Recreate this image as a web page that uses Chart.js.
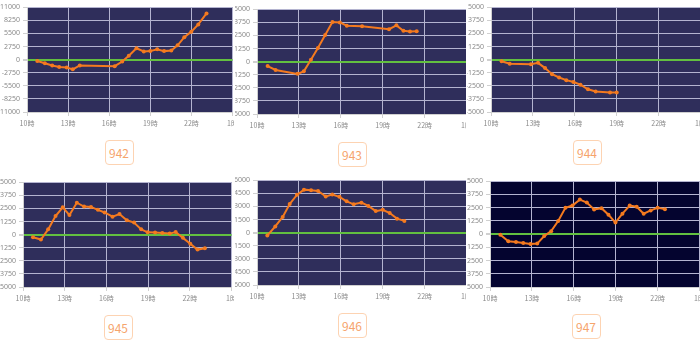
<!DOCTYPE html>
<html>
<head>
<meta charset="utf-8">
<script src="https://cdn.jsdelivr.net/npm/chart.js@4.4.0/dist/chart.umd.min.js"></script>
<style>
body{margin:0;background:#fff;font-family:"Noto Sans CJK JP","Noto Sans",sans-serif;}
#page{position:relative;width:700px;height:345px;overflow:hidden;background:#fff;}
.clip{position:absolute;overflow:hidden;}
.clip canvas{position:absolute;}
.tag{position:absolute;box-sizing:border-box;width:29px;height:25px;border:1px solid #fdd3b2;border-radius:4px;color:#f6a46c;font-size:12px;line-height:23px;text-align:center;background:#fff;}
</style>
</head>
<body>
<div id="page"></div>
<script>
// chart data (hours since midnight, 25 = 1時 next day)
var hourLabels = ['10時','13時','16時','19時','22時','1時'];
var machines = ['942','943','944','945','946','947'];
var yLimits = [11000, 5000, 5000, 5000, 6000, 5000];

var hours942 = [10.75,11.3,11.84,12.35,12.9,13.34,13.85,16.4,16.95,17.43,17.99,18.52,19.0,19.5,20.0,20.53,20.99,21.48,21.99,22.5,23.1];
var diff942  = [-300,-750,-1230,-1570,-1640,-2050,-1230,-1370,-410,820,2390,1700,1780,2190,1780,1910,3000,4710,5870,7380,9700];

var hours943 = [10.76,11.33,12.9,13.35,13.86,14.36,14.88,15.4,15.93,16.43,17.52,19.45,19.98,20.48,20.95,21.43];
var diff943  = [-430,-800,-1170,-930,185,1300,2530,3770,3740,3430,3370,3090,3460,2940,2870,2900];

var hours944 = [10.76,11.34,12.86,13.37,13.87,14.37,14.87,15.39,15.9,16.4,16.94,17.49,18.52,19.0];
var diff944  = [-155,-400,-435,-310,-810,-1400,-1710,-1960,-2140,-2390,-2830,-3040,-3140,-3140];

var hours945 = [10.72,11.29,11.81,12.34,12.86,13.34,13.87,14.39,14.89,15.39,15.87,16.44,16.94,17.47,17.99,18.5,18.97,19.5,20.02,20.55,20.98,21.5,22.03,22.55,23.08];
var diff945  = [-250,-470,500,1770,2610,1860,3040,2670,2640,2360,2110,1710,1960,1370,1150,500,220,190,155,95,250,-310,-870,-1430,-1300];

var hours946 = [10.74,11.31,11.84,12.34,12.86,13.36,13.87,14.37,14.92,15.39,15.9,16.42,16.92,17.47,17.97,18.5,19.0,19.5,20.02,20.55];
var diff946  = [-335,710,1790,3280,4320,4920,4850,4770,4140,4360,4100,3580,3240,3430,3060,2460,2610,2240,1600,1340];

var hours947 = [10.74,11.31,11.86,12.38,12.9,13.38,13.88,14.38,14.88,15.4,15.9,16.43,16.93,17.45,17.98,18.48,18.98,19.48,20.0,20.5,21.0,21.5,22.0,22.52];
var diff947  = [-60,-680,-750,-840,-930,-900,-190,280,1240,2480,2700,3260,2980,2330,2450,1830,1090,1930,2700,2580,1930,2240,2480,2360];

var allHours = [hours942, hours943, hours944, hours945, hours946, hours947];
var allDiffs = [diff942, diff943, diff944, diff945, diff946, diff947];

// panel geometry: plot left/right/top/bottom, clip box, tag centre
var panels = [
  {L:27,  R:233, T:5,   B:112, clip:[0,0,234,170],     tag:[119,152], bg:'#2f2e5b'},
  {L:257, R:467, T:7,   B:114, clip:[235,0,231,170],   tag:[352,154], bg:'#2f2e5b'},
  {L:491, R:701, T:5,   B:112, clip:[467,0,233,170],   tag:[587,152], bg:'#2f2e5b'},
  {L:23,  R:232, T:180, B:287, clip:[0,170,234,175],   tag:[118,327], bg:'#2f2e5b'},
  {L:257, R:467, T:178, B:285, clip:[235,170,231,175], tag:[352,325], bg:'#2f2e5b'},
  {L:490, R:700, T:179, B:287, clip:[467,170,233,175], tag:[586,326], bg:'#04042f'}
];

var yAxisW = 40, xAxisH = 20, topPad = 5, rightPad = 8;

var plotBg = {
  id: 'plotBg',
  beforeDraw: function(chart, args, opts){
    var a = chart.chartArea, c = chart.ctx;
    c.save();
    c.fillStyle = opts.color;
    c.fillRect(a.left, a.top, a.right - a.left, a.bottom - a.top);
    c.restore();
  }
};

var page = document.getElementById('page');

panels.forEach(function(p, i){
  var clip = document.createElement('div');
  clip.className = 'clip';
  clip.style.left = p.clip[0] + 'px';
  clip.style.top = p.clip[1] + 'px';
  clip.style.width = p.clip[2] + 'px';
  clip.style.height = p.clip[3] + 'px';
  page.appendChild(clip);

  var cv = document.createElement('canvas');
  var cw = (p.R - p.L) + yAxisW + rightPad;
  var ch = (p.B - p.T) + topPad + xAxisH;
  cv.width = cw; cv.height = ch;
  cv.style.width = cw + 'px'; cv.style.height = ch + 'px';
  cv.style.left = (p.L - yAxisW - p.clip[0]) + 'px';
  cv.style.top = (p.T - topPad - p.clip[1]) + 'px';
  clip.appendChild(cv);

  var tag = document.createElement('div');
  tag.className = 'tag';
  tag.textContent = machines[i];
  tag.style.left = (p.tag[0] - 14.5) + 'px';
  tag.style.top = (p.tag[1] - 12.5) + 'px';
  page.appendChild(tag);

  var pts = allHours[i].map(function(h, k){ return {x: h, y: allDiffs[i][k]} });
  var lim = yLimits[i];

  new Chart(cv, {
    type: 'line',
    data: { datasets: [{
      data: pts,
      borderColor: '#f47a1f',
      backgroundColor: '#f47a1f',
      borderWidth: 2,
      pointRadius: 2,
      pointBorderWidth: 0,
      pointHoverRadius: 2,
      tension: 0
    }]},
    options: {
      responsive: false,
      animation: false,
      devicePixelRatio: 1,
      layout: { padding: {top: topPad, right: 0, bottom: 0, left: 0} },
      plugins: { legend: {display: false}, tooltip: {enabled: false}, plotBg: {color: p.bg} },
      scales: {
        x: {
          type: 'linear', min: 10, max: 25,
          afterFit: function(s){ s.height = xAxisH },
          ticks: {
            stepSize: 3, autoSkip: false, maxRotation: 0, padding: 3,
            color: '#8a8a8a', font: {size: 7, family: '"Noto Sans CJK JP", sans-serif'},
            callback: function(v, idx){ return hourLabels[idx] }
          },
          grid: { color: '#b4b4d0', lineWidth: 1, tickLength: 4, tickColor: '#d0d0d0' },
          border: { color: '#d0d0d0' }
        },
        y: {
          min: -lim, max: lim,
          afterFit: function(s){ s.width = yAxisW },
          ticks: {
            stepSize: lim / 4, padding: 3,
            color: '#8a8a8a', font: {size: 7, family: '"Noto Sans", sans-serif'},
            callback: function(v){ return String(v) }
          },
          grid: {
            color: function(c){ return c.tick && c.tick.value === 0 ? '#62c040' : '#b4b4d0' },
            lineWidth: function(c){ return c.tick && c.tick.value === 0 ? 2 : 1 },
            tickLength: 4, tickColor: '#d0d0d0'
          },
          border: { color: '#d0d0d0' }
        }
      }
    },
    plugins: [plotBg]
  });
});
</script>
</body>
</html>
